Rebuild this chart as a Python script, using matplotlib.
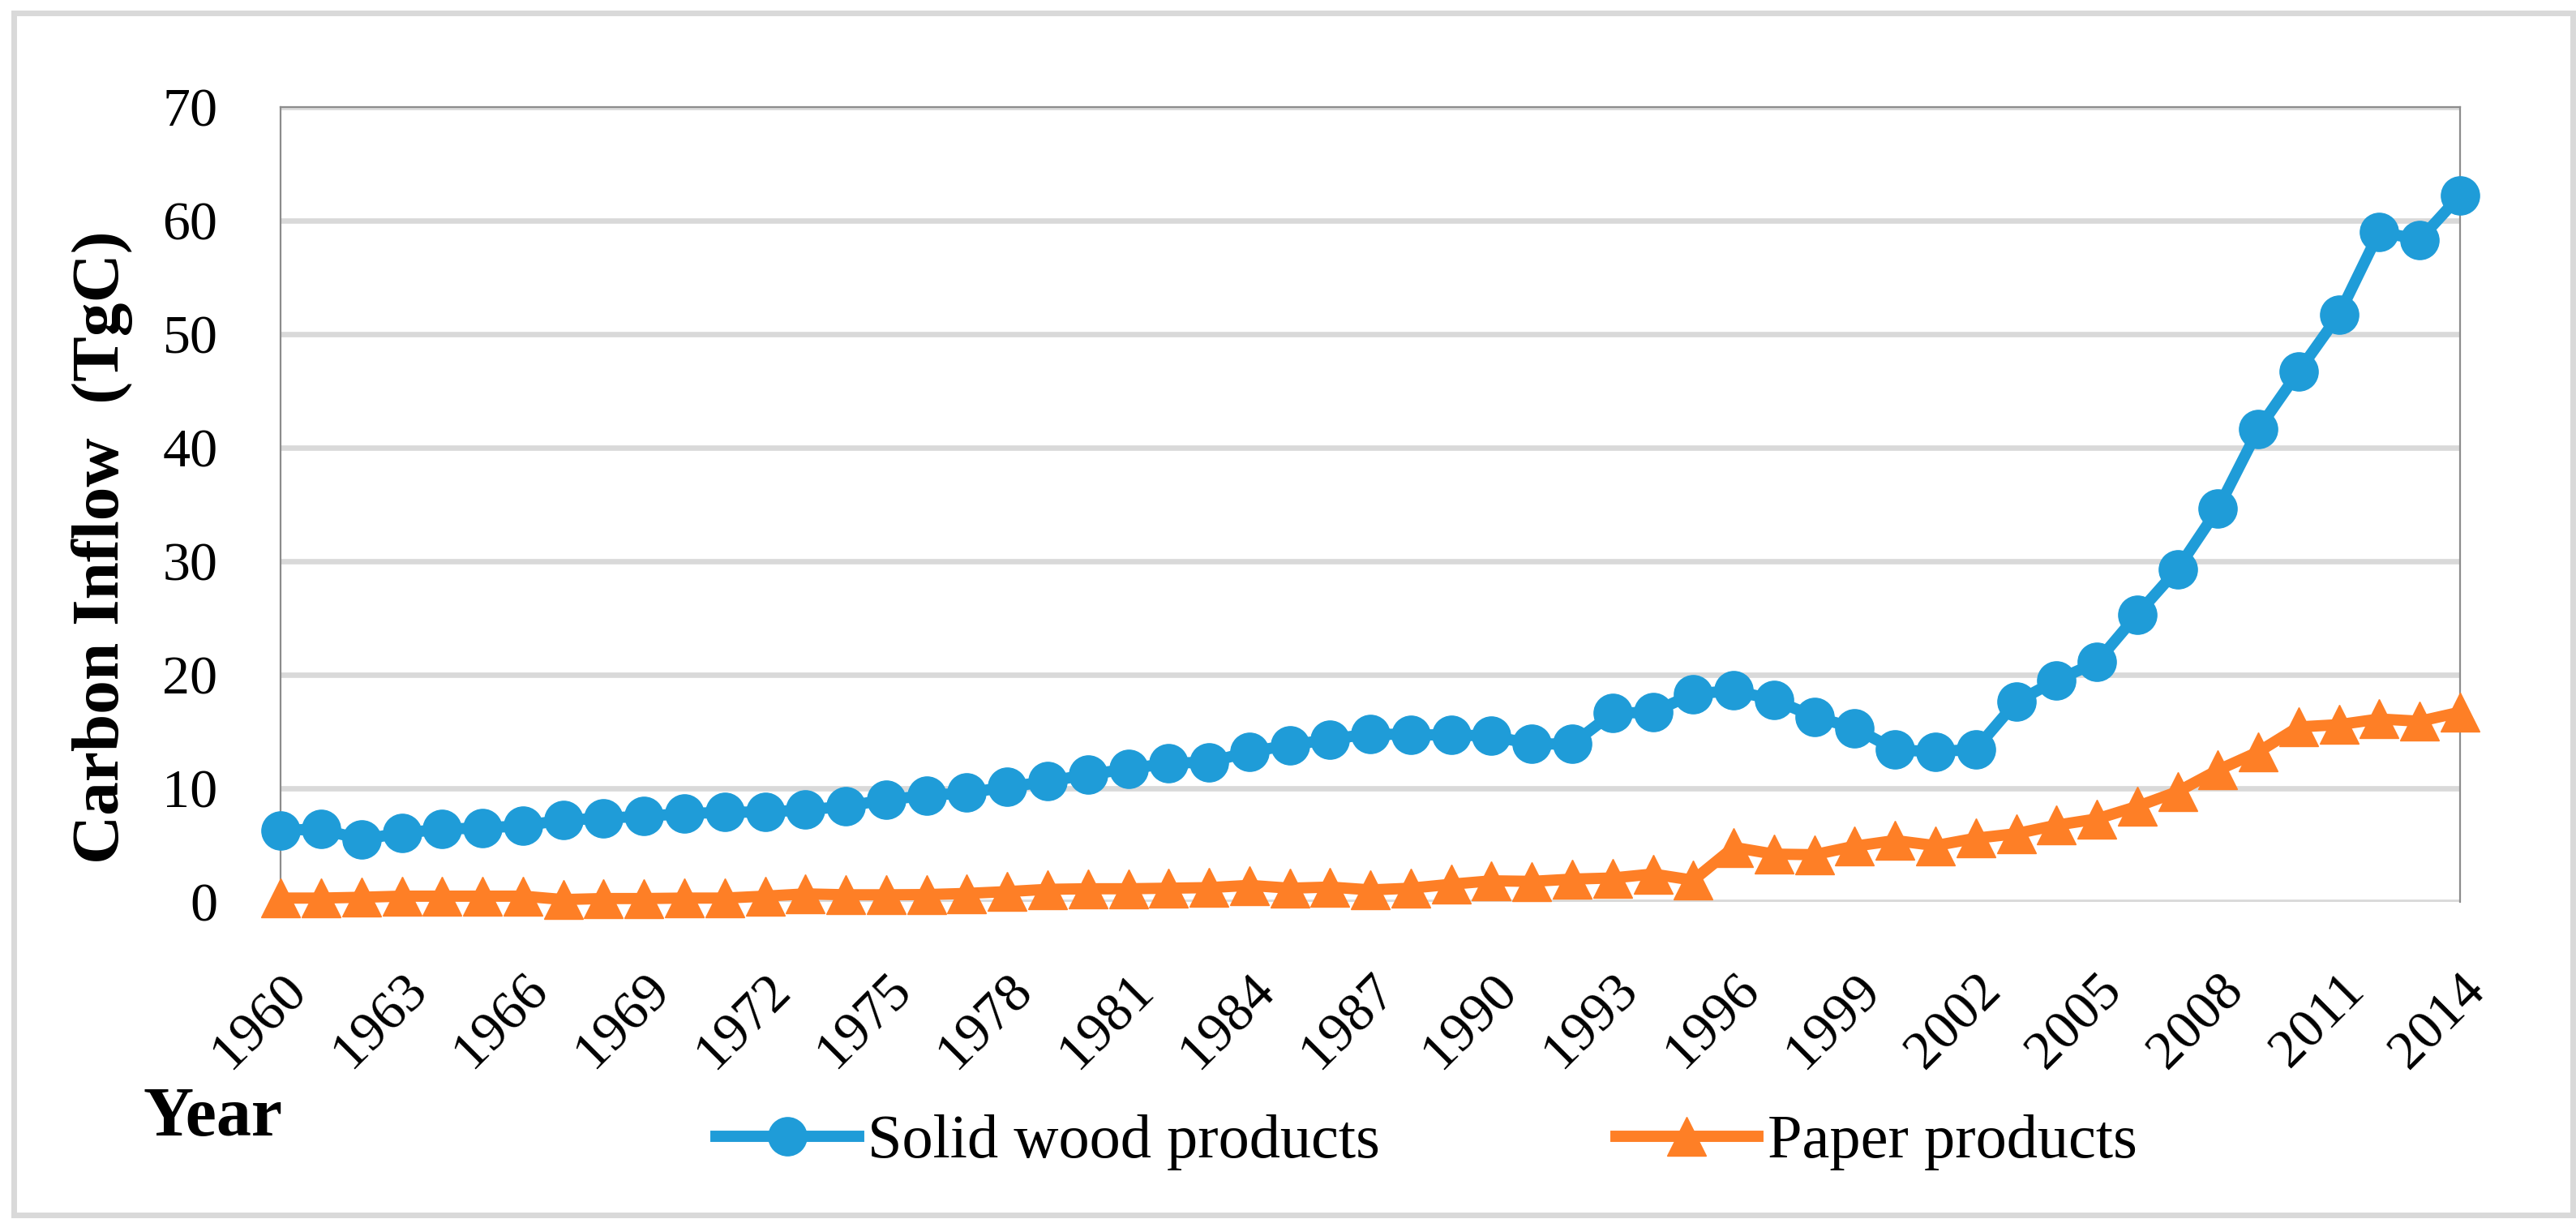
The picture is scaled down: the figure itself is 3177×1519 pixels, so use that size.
import matplotlib
matplotlib.use("Agg")
import matplotlib.pyplot as plt
from matplotlib.patches import Rectangle

years = list(range(1960, 2015))
solid_wood = [6.3, 6.4, 5.5, 6.05, 6.4, 6.5, 6.7, 7.2, 7.35, 7.55,
              7.75, 7.9, 7.9, 8.1, 8.4, 9.0, 9.35, 9.6, 10.1, 10.6,
              11.2, 11.7, 12.2, 12.3, 13.2, 13.8, 14.3, 14.8, 14.7, 14.7,
              14.6, 13.9, 13.9, 16.6, 16.7, 18.3, 18.6, 17.8, 16.3, 15.3,
              13.4, 13.2, 13.45, 17.6, 19.5, 21.1, 25.3, 29.3, 34.6, 41.6,
              46.7, 51.7, 59.0, 58.3, 62.2]
paper = [0.33, 0.33, 0.4, 0.5, 0.5, 0.5, 0.5, 0.2, 0.29, 0.29,
         0.33, 0.33, 0.5, 0.7, 0.62, 0.62, 0.64, 0.74, 0.9, 1.1,
         1.15, 1.15, 1.2, 1.25, 1.45, 1.2, 1.3, 1.05, 1.2, 1.55,
         1.85, 1.8, 2.0, 2.1, 2.45, 1.9, 4.8, 4.2, 4.15, 4.9,
         5.4, 4.95, 5.6, 6.0, 6.75, 7.3, 8.4, 9.7, 11.6, 13.2,
         15.4, 15.6, 16.1, 15.9, 16.7]
xtick_years = list(range(1960, 2015, 3))
yticks = [0, 10, 20, 30, 40, 50, 60, 70]

series_names = ["Solid wood products", "Paper products"]
ylabel = "Carbon Inflow  (TgC)"
xlabel = "Year"

plt.rcParams['font.family'] = ['Liberation Serif', 'DejaVu Serif']

BLUE = '#1F9CD8'
ORANGE = '#FE7F26'
GRID = '#D9D9D9'
SPINE = '#8C8C8C'

fig = plt.figure(figsize=(31.77, 15.19), dpi=100)
ax = fig.add_axes([0.109, 0.268, 0.846, 0.6453])

ax.plot(years, solid_wood, color=BLUE, lw=10, marker='o', markersize=34,
        label=series_names[0], clip_on=False, zorder=3)
ax.plot(years, paper, color=ORANGE, lw=10, marker='^', markersize=35,
        label=series_names[1], clip_on=False, zorder=4)

ax.set_xlim(1960, 2014)
ax.set_ylim(0, 70)
ax.set_yticks(yticks)
ax.set_xticks(xtick_years)
ax.set_xticklabels([str(y) for y in xtick_years], rotation=45, ha='right',
                   va='top', rotation_mode='anchor')
ax.tick_params(axis='both', length=0, labelsize=49)
ax.tick_params(axis='y', pad=56)
ax.tick_params(axis='x', pad=56)

ax.grid(axis='y', color=GRID, lw=4.8, zorder=0)
ax.set_axisbelow(True)
for side in ['left', 'right', 'top']:
    ax.spines[side].set_color(SPINE)
    ax.spines[side].set_linewidth(1.6)
ax.spines['bottom'].set_visible(False)

fig.text(0.0397, 0.556, ylabel, rotation=90, ha='center', va='center',
         fontsize=60, fontweight='bold')
fig.text(0.0557, 0.0783, xlabel, ha='left', va='baseline',
         fontsize=62, fontweight='bold')

leg = fig.legend(loc='center left', bbox_to_anchor=(0.278, 0.0726),
                 bbox_transform=fig.transFigure, ncol=2, frameon=False,
                 fontsize=55, handlelength=2.3, handletextpad=0.15,
                 columnspacing=3.8, borderpad=0, borderaxespad=0)

fig.patches.append(Rectangle((17 / 3177, 1 - 1498 / 1519), (3173 - 17) / 3177,
                             (1498 - 16) / 1519, transform=fig.transFigure,
                             fill=False, edgecolor=GRID, lw=5, zorder=-1))

fig.savefig('out.png', dpi=100)
